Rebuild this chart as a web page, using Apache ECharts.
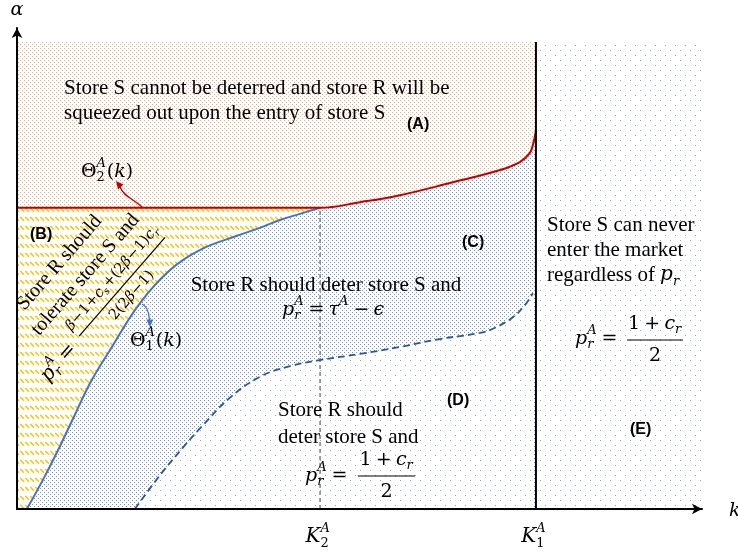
<!DOCTYPE html>
<html>
<head>
<meta charset="utf-8">
<script src="https://cdn.jsdelivr.net/npm/echarts@6/dist/echarts.min.js"></script>
<style>
  html, body { margin: 0; padding: 0; background: #fff; }
  #chart { width: 738px; height: 552px; }
</style>
</head>
<body>
<div id="chart"></div>
<script>
// k on the horizontal axis (scaled so K1^A = 1), alpha on the vertical axis
const X_MAX = 1.32;
const Y_MAX = 1.03;
const REGION_TOP = 1.0;
const kThresholds = [0.584, 1.0];               // K2^A, K1^A
const kThresholdSubs = ['2', '1'];
const theta2Level = 0.645;                       // flat part of Θ2^A(k)

// Θ2^A(k): flat until K2^A, then rising steeply towards K1^A
const theta2X = [0, 0.584, 0.661, 0.738, 0.834, 0.931, 0.969, 0.988, 0.994, 1.0];
const theta2Y = [0.645, 0.645, 0.657, 0.672, 0.698, 0.726, 0.743, 0.762, 0.779, 0.81];

// Θ1^A(k): lower boundary of the deterrence region
const theta1X = [0.019, 0.054, 0.083, 0.112, 0.141, 0.179, 0.237, 0.295, 0.353, 0.424, 0.468, 0.507, 0.545, 0.584];
const theta1Y = [0, 0.071, 0.135, 0.203, 0.270, 0.340, 0.441, 0.512, 0.555, 0.585, 0.602, 0.619, 0.632, 0.645];

// boundary between regions (C) and (D)
const deterX = [0.227, 0.276, 0.324, 0.353, 0.410, 0.468, 0.526, 0.584, 0.661, 0.738, 0.815, 0.892, 0.921, 0.956, 0.979, 0.994];
const deterY = [0, 0.073, 0.137, 0.173, 0.238, 0.283, 0.306, 0.319, 0.332, 0.347, 0.364, 0.377, 0.388, 0.411, 0.437, 0.462];

const zip = (xs, ys) => xs.map((x, i) => [x, ys[i]]);
const theta2 = zip(theta2X, theta2Y);
const theta1 = zip(theta1X, theta1Y);
const deter = zip(deterX, deterY);
const K2 = kThresholds[0], K1 = kThresholds[1];
const upperC = theta1.concat(theta2.filter(p => p[0] > K2));

// ---- fill patterns ----
function tile(w, h, paint) {
  const c = document.createElement('canvas');
  c.width = w; c.height = h;
  const g = c.getContext('2d');
  g.fillStyle = '#fff'; g.fillRect(0, 0, w, h);
  paint(g);
  return { image: c, repeat: 'repeat' };
}
const orangeDots = tile(4, 4, g => { g.fillStyle = '#F4A878'; g.fillRect(0, 0, 1, 1); g.fillRect(2, 2, 1, 1); });
const blueDots = tile(4, 4, g => { g.fillStyle = '#6F93D6'; g.fillRect(0, 0, 1, 1); g.fillRect(2, 2, 1, 1); });
const sparseDots = tile(10, 10, g => { g.fillStyle = '#8AA4D8'; g.fillRect(0, 0, 1, 1); g.fillRect(5, 5, 1, 1); });
const yellowHatch = tile(5, 9, g => {
  g.strokeStyle = '#FFC000'; g.lineWidth = 1.5;
  g.beginPath(); g.moveTo(0.3, 1); g.lineTo(4, 4.7); g.stroke();
});

function area(name, data, fill, z, smooth) {
  return { type: 'line', name, data, z, symbol: 'none', silent: true, smooth: smooth ? 0.4 : false,
    lineStyle: { width: 0, opacity: 0 }, areaStyle: { color: fill, opacity: 1, origin: 'start' } };
}
function stroke(name, data, color, width, type, z, smooth) {
  return { type: 'line', name, data, z, symbol: 'none', silent: true, smooth: smooth ? 0.4 : false,
    lineStyle: { color, width, type } };
}

const axisCommon = {
  type: 'value', min: 0, z: 20,
  axisLine: { show: true, onZero: false, symbol: ['none', 'arrow'], symbolSize: [8, 10],
    lineStyle: { color: '#000', width: 2 } },
  axisTick: { show: false }, axisLabel: { show: false }, splitLine: { show: false }
};

const chart = echarts.init(document.getElementById('chart'));
chart.setOption({
  animation: false,
  grid: { left: 17, right: 36, top: 28, bottom: 43, outerBoundsMode: 'none' },
  xAxis: Object.assign({}, axisCommon, { max: X_MAX }),
  yAxis: Object.assign({}, axisCommon, { max: Y_MAX }),
  series: [
    area('E', [[0, REGION_TOP], [X_MAX, REGION_TOP]], sparseDots, 1, false),
    area('A', [[0, REGION_TOP], [K1, REGION_TOP]], orangeDots, 2, false),
    area('B', [[0, theta2Level], [K2, theta2Level]], yellowHatch, 3, false),
    area('C', upperC, blueDots, 4, true),
    area('D', deter, sparseDots, 5, true),
    stroke('K2', [[K2, 0], [K2, theta2Level]], '#7F7F7F', 1.5, [4, 3], 6, false),
    stroke('deter', deter, '#2F5597', 1.8, [7, 4], 7, true),
    stroke('theta1', theta1, '#4472C4', 2, 'solid', 8, true),
    stroke('theta2', theta2, '#C00000', 2, 'solid', 9, true),
    stroke('K1', [[K1, 0], [K1, REGION_TOP]], '#000', 2, 'solid', 10, false)
  ]
});

// ---- text and math annotations ----
const TF = '"Liberation Serif"';
const MF = '"DejaVu Serif"';
const LF = '"Liberation Sans"';
const mctx = document.createElement('canvas').getContext('2d');
function tw(font, s) { mctx.font = font; return mctx.measureText(s).width; }
function tx(x, y, s, font, align) {
  return { type: 'text', x, y, silent: true, z: 100,
    style: { text: s, font, fill: '#000', textAlign: align || 'left', align: align || 'left',
      textVerticalAlign: 'middle', verticalAlign: 'middle' } };
}
const isItalic = s => /^[a-zA-Zα-ωϵ]+$/.test(s);
const mf = (size, it) => (it ? 'italic ' : '') + size + 'px ' + MF;

function mrow(tokens, M, opPad) {
  const S = Math.round(M * 0.66);
  const pad = (opPad === undefined ? 0.22 : opPad) * M;
  const els = [];
  let x = 0;
  tokens.forEach(tok => {
    if (typeof tok === 'object') {
      let w = 0;
      if (tok.sb) { const f = mf(S, isItalic(tok.sb)); els.push(tx(x, M * 0.32, tok.sb, f)); w = Math.max(w, tw(f, tok.sb)); }
      if (tok.sp) { const f = mf(S, isItalic(tok.sp)); els.push(tx(x, -M * 0.42, tok.sp, f)); w = Math.max(w, tw(f, tok.sp)); }
      x += w + M * 0.04;
    } else {
      const op = /^[=+−]$/.test(tok);
      const f = mf(M, isItalic(tok));
      if (op) x += pad;
      els.push(tx(x, 0, tok, f));
      x += tw(f, tok) + (op ? pad : 0);
    }
  });
  return { els, w: x };
}
function place(row, x, y, align) {
  const dx = align === 'center' ? x - row.w / 2 : x;
  return row.els.map(e => Object.assign({}, e, { x: e.x + dx, y: e.y + y }));
}
function frac(num, den, M, cx, ybar, bw, gap, opPad) {
  const n = mrow(num, M, opPad), d = mrow(den, M, opPad);
  return place(n, cx, ybar - gap, 'center')
    .concat(place(d, cx, ybar + gap, 'center'))
    .concat([{ type: 'line', silent: true, z: 100, shape: { x1: cx - bw / 2, y1: ybar, x2: cx + bw / 2, y2: ybar },
      style: { stroke: '#000', lineWidth: 1.2 } }]);
}

const T21 = '21px ' + TF;
const T20 = '20px ' + TF;
const BOLD = 'bold 16px ' + LF;
const prA = ['p', { sb: 'r', sp: 'A' }, '='];
const halfNum = ['1', '+', 'c', { sb: 'r' }];

let els = [];
// axis names
els.push(tx(17, 10, 'α', mf(19, true), 'center'));
els.push(tx(729, 511, 'k', mf(19, true)));
// threshold labels under the k axis
kThresholds.forEach((k, i) => {
  const px = chart.convertToPixel({ gridIndex: 0 }, [k, 0]);
  els = els.concat(place(mrow(['K', { sb: kThresholdSubs[i], sp: 'A' }], 20), px[0] - 2, 537, 'center'));
});

// (A)
els.push(tx(64, 88, 'Store S cannot be deterred and store R will be', T21));
els.push(tx(64, 113, 'squeezed out upon the entry of store S', T21));
els.push(tx(407, 125, '(A)', BOLD));
els = els.concat(place(mrow(['Θ', { sb: '2', sp: 'A' }, '(', 'k', ')'], 19), 81, 172));
els.push({ type: 'bezierCurve', silent: true, z: 100,
  shape: { x1: 142, y1: 207, cpx1: 134, cpy1: 199, cpx2: 124, cpy2: 197, x2: 120, y2: 187 },
  style: { stroke: '#C00000', lineWidth: 1.3, fill: null } });
els.push({ type: 'polygon', silent: true, z: 100,
  shape: { points: [[116, 181], [123.5, 184.5], [118, 189.5]] }, style: { fill: '#C00000' } });

// (B) – rotated block along the region
els.push(tx(30, 235, '(B)', BOLD));
const bRot = 49 * Math.PI / 180;
let bChildren = [];
bChildren.push(tx(64, -6, 'Store R should', T20, 'center'));
bChildren.push(tx(72, 21.5, 'tolerate store S and', T20, 'center'));
bChildren = bChildren.concat(place(mrow(prA, 20), -34, 59));
bChildren = bChildren.concat(frac(
  ['β', '−', '1', '+', 'c', { sb: 's' }, '+', '(', '2', 'β', '−', '1', ')', 'c', { sb: 'r' }],
  ['2', '(', '2', 'β', '−', '1', ')'],
  14.5, 87, 57, 131, 13, 0.02));
els.push({ type: 'group', x: 22, y: 315, rotation: bRot, z: 100, children: bChildren });

// Θ1 label and arrow
els = els.concat(place(mrow(['Θ', { sb: '1', sp: 'A' }, '(', 'k', ')'], 19), 130, 341));
els.push({ type: 'bezierCurve', silent: true, z: 100,
  shape: { x1: 142, y1: 304, cpx1: 146, cpy1: 306, cpx2: 149, cpy2: 311, x2: 149.5, y2: 320 },
  style: { stroke: '#4472C4', lineWidth: 1.3, fill: null } });
els.push({ type: 'polygon', silent: true, z: 100,
  shape: { points: [[150, 327], [146.3, 319.5], [153.3, 319.5]] }, style: { fill: '#4472C4' } });

// (C)
els.push(tx(462, 243, '(C)', BOLD));
els.push(tx(326, 285, 'Store R should deter store S and', T21, 'center'));
els = els.concat(place(mrow(['p', { sb: 'r', sp: 'A' }, '=', 'τ', { sp: 'A' }, '−', 'ϵ'], 19), 282, 310));

// (D)
els.push(tx(447, 401, '(D)', BOLD));
els.push(tx(278, 410, 'Store R should', T21));
els.push(tx(278, 437, 'deter store S and', T21));
els = els.concat(place(mrow(prA, 19), 305, 476));
els = els.concat(frac(halfNum, ['2'], 19, 386.5, 476, 57, 16));

// (E)
els.push(tx(547, 225, 'Store S can never', T21));
els.push(tx(547, 250, 'enter the market', T21));
els.push(tx(547, 275, 'regardless of ', T21));
els = els.concat(place(mrow(['p', { sb: 'r' }], 20), 547 + tw(T21, 'regardless of '), 275));
els = els.concat(place(mrow(prA, 19), 575, 339));
els = els.concat(frac(halfNum, ['2'], 19, 655, 340, 56, 16));
els.push(tx(630, 430, '(E)', BOLD));

chart.setOption({ graphic: { elements: els } });
</script>
</body>
</html>
